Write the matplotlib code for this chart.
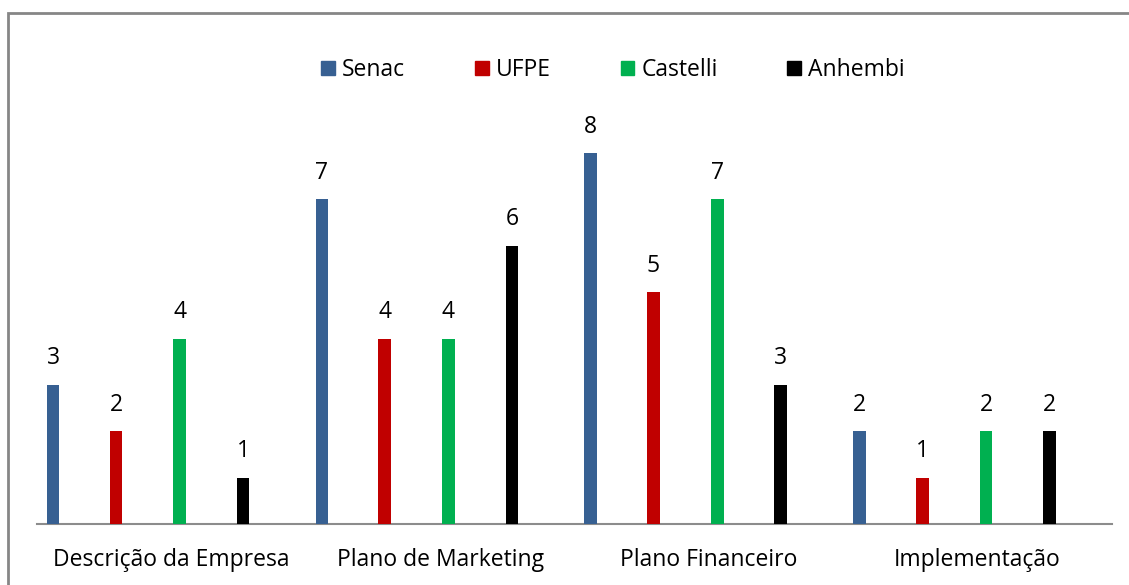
import matplotlib.pyplot as plt
from matplotlib.patches import Rectangle, Patch

plt.rcParams['font.family'] = ['Open Sans', 'DejaVu Sans']

categories = ['Descrição da Empresa', 'Plano de Marketing', 'Plano Financeiro', 'Implementação']
series = ['Senac', 'UFPE', 'Castelli', 'Anhembi']
senac = [3, 7, 8, 2]
ufpe = [2, 4, 5, 1]
castelli = [4, 4, 7, 2]
anhembi = [1, 6, 3, 2]
colors = ['#376092', '#C00000', '#00B050', '#000000']

values = [senac, ufpe, castelli, anhembi]
# bar position inside each category slot (slot = 1 unit)
offsets = [0.06, 0.294, 0.531, 0.767]
bar_w = 0.047

fig = plt.figure(figsize=(11.29, 5.85), dpi=100)
ax = fig.add_axes([37 / 1129, 61 / 585, (1112 - 37) / 1129, 9 * 46.375 / 585])

for s, vals in enumerate(values):
    xs = [i + offsets[s] for i in range(len(categories))]
    ax.bar(xs, vals, width=bar_w, color=colors[s], label=series[s], zorder=3)
    for x, v in zip(xs, vals):
        ax.text(x, v + 0.31, str(v), ha='center', va='bottom', fontsize=16.5, color='black')

ax.set_xlim(0, len(categories))
ax.set_ylim(0, 9)
ax.set_xticks([i + 0.5 for i in range(len(categories))])
ax.set_xticklabels(categories, fontsize=16.5)
ax.tick_params(axis='x', length=0, pad=17)
ax.set_yticks([])
for side in ['left', 'right', 'top']:
    ax.spines[side].set_visible(False)
ax.spines['bottom'].set_color('#8c8c8c')
ax.spines['bottom'].set_linewidth(1.5)

handles = [Patch(color=c) for c in colors]
fig.legend(handles, series, loc='center', bbox_to_anchor=(0.543, 0.88), ncol=4,
           frameon=False, fontsize=16.5, handlelength=0.6, handleheight=0.6,
           handletextpad=0.3, columnspacing=3.05)

# outer chart border
fig.patches.append(Rectangle((8 / 1129, -0.1), 1.2, 1.1 - 13 / 585, transform=fig.transFigure,
                             fill=False, edgecolor='#868686', linewidth=2))

fig.savefig('out.png', dpi=100)
